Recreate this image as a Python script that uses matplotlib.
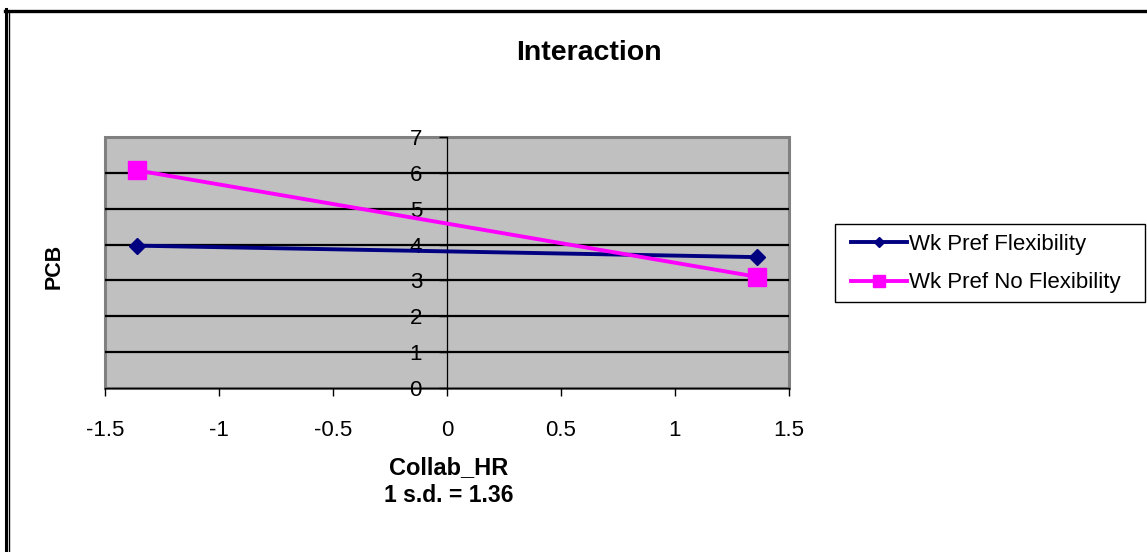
import matplotlib
matplotlib.use("Agg")
import matplotlib.pyplot as plt
from matplotlib.lines import Line2D
from matplotlib.patches import Rectangle

plt.rcParams['font.family'] = ['Liberation Sans', 'DejaVu Sans']

# Simple slopes at -1 s.d. and +1 s.d. of Collab_HR
collab_hr = [-1.36, 1.36]
pcb_flex = [3.97, 3.65]
pcb_no_flex = [6.07, 3.10]
series_names = ["Wk Pref Flexibility", "Wk Pref No Flexibility"]

x_ticks = [-1.5, -1, -0.5, 0, 0.5, 1, 1.5]
x_tick_labels = ["-1.5", "-1", "-0.5", "0", "0.5", "1", "1.5"]
y_ticks = [0, 1, 2, 3, 4, 5, 6, 7]

W, H = 1147, 552
fig = plt.figure(figsize=(W / 100, H / 100), dpi=100)
fig.patch.set_facecolor("white")

ax = fig.add_axes([105 / W, 1 - 388 / H, 684 / W, 251 / H])
ax.set_facecolor("#C0C0C0")
ax.set_xlim(-1.5, 1.5)
ax.set_ylim(0, 7)

# horizontal gridlines between the floor and the top edge
for v in y_ticks[1:-1]:
    ax.axhline(v, color="black", lw=1.6, zorder=1)

# plot-area frame
ax.add_patch(Rectangle((0, 0), 1, 1, transform=ax.transAxes, fill=False,
                       edgecolor="#808080", lw=2.2, zorder=0.5, clip_on=False))
for s in ["top", "right"]:
    ax.spines[s].set_visible(False)
ax.spines["left"].set_position(("data", 0))
ax.spines["left"].set_color("black")
ax.spines["left"].set_linewidth(0.9)
ax.spines["bottom"].set_color("black")
ax.spines["bottom"].set_linewidth(1.0)

ax.set_xticks(x_ticks)
ax.set_xticklabels(x_tick_labels)
ax.set_yticks(y_ticks)
ax.tick_params(axis="x", direction="out", length=6, width=1, pad=17, labelsize=16)
ax.tick_params(axis="y", direction="out", length=6, width=1, pad=12, labelsize=16)

ax.plot(collab_hr, pcb_flex, color="#000080", lw=2.8, marker="D", ms=7.8,
        label=series_names[0], zorder=3)
ax.plot(collab_hr, pcb_no_flex, color="#FF00FF", lw=2.8, marker="s", ms=13,
        label=series_names[1], zorder=3, clip_on=False)

leg = ax.legend(loc="upper left", bbox_to_anchor=(851 / W, 1 - 234 / H),
                bbox_transform=fig.transFigure, fontsize=16, frameon=False,
                handlelength=2.5, handletextpad=0.1, borderpad=0,
                labelspacing=0.78, borderaxespad=0, markerscale=0.7)

# legend box
fig.add_artist(Rectangle((835 / W, 1 - 302 / H), 310 / W, 78 / H,
                         transform=fig.transFigure, fill=False,
                         edgecolor="black", lw=1.0))

fig.text(589 / W, 1 - 53 / H, "Interaction", ha="center", va="center",
         fontsize=20.5, fontweight="bold")
fig.text(54 / W, 1 - 266 / H, "PCB", ha="center", va="center", rotation=90,
         fontsize=15.5, fontweight="bold")
fig.text(449 / W, 1 - 468 / H, "Collab_HR", ha="center", va="center",
         fontsize=17, fontweight="bold")
fig.text(449 / W, 1 - 496 / H, "1 s.d. = 1.36", ha="center", va="center",
         fontsize=16.5, fontweight="bold")

# outer double frame along top and left edges
fig.add_artist(Line2D([5 / W, 1], [1 - 10.5 / H, 1 - 10.5 / H],
                      transform=fig.transFigure, color="black", lw=2.4))
fig.add_artist(Line2D([6 / W, 6 / W], [0, 1 - 9 / H],
                      transform=fig.transFigure, color="black", lw=2.2))
fig.add_artist(Line2D([9 / W, 9 / W], [0, 1 - 12 / H],
                      transform=fig.transFigure, color="black", lw=1.0))

fig.savefig("out.png", dpi=100)
